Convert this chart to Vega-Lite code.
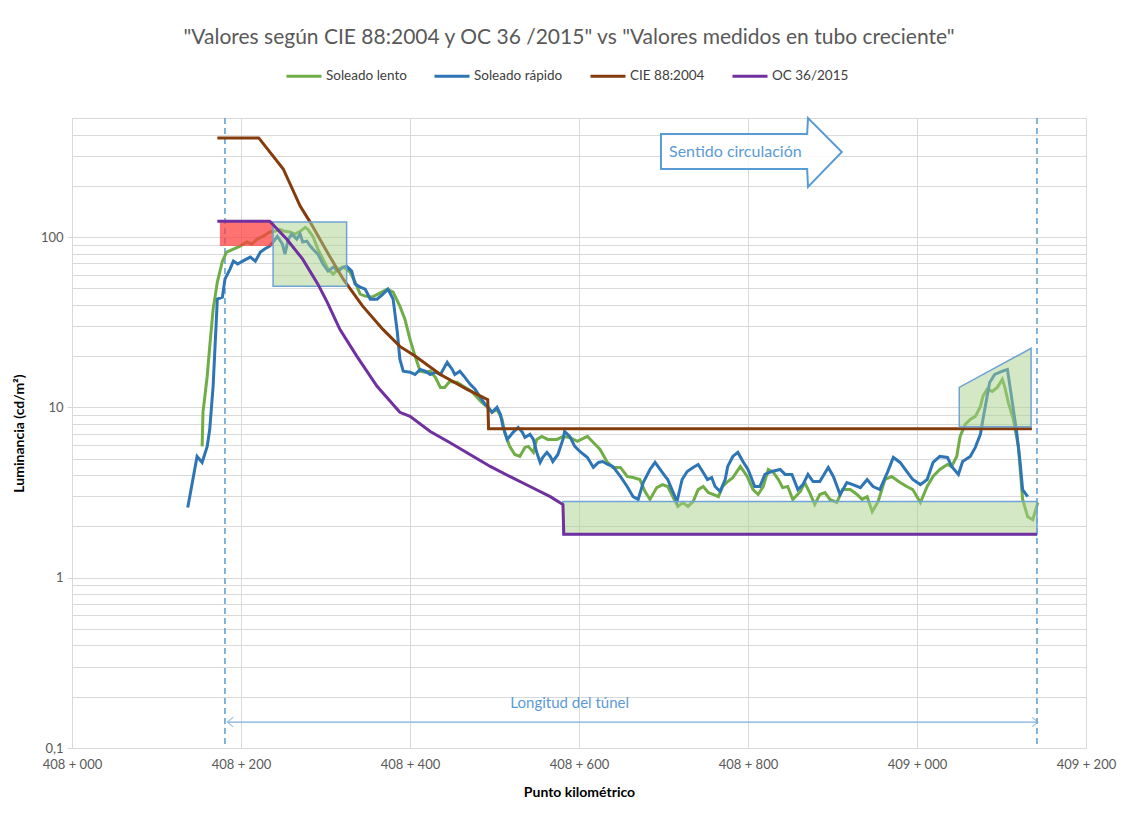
{
  "$schema": "https://vega.github.io/schema/vega-lite/v6.json",
  "width": 1014,
  "height": 630,
  "autosize": {"type": "none"},
  "padding": {"left": 72, "top": 118, "right": 36, "bottom": 68},
  "background": "white",
  "config": {"view": {"stroke": null}, "font": "Lato"},
  "title": {
    "text": "\"Valores según CIE 88:2004 y  OC 36 /2015\" vs \"Valores medidos en tubo creciente\"",
    "font": "Lato", "fontSize": 21, "fontWeight": "normal", "color": "#595959",
    "offset": 9, "dx": -10
  },
  "datasets": {
    "lento": [
      {"pk":408154,"L":5.9},{"pk":408155,"L":9.35},{"pk":408160,"L":15.2},{"pk":408163,"L":22.8},{"pk":408167,"L":37.7},{"pk":408172,"L":54.4},{"pk":408178,"L":72.2},{"pk":408183,"L":81.6},{"pk":408191,"L":85.0},{"pk":408199,"L":88.5},{"pk":408207,"L":93.5},{"pk":408213,"L":91.0},{"pk":408219,"L":97.3},{"pk":408226,"L":101},{"pk":408234,"L":107},{"pk":408240,"L":108},{"pk":408246,"L":111},{"pk":408252,"L":108},{"pk":408258,"L":107},{"pk":408264,"L":104},{"pk":408270,"L":108},{"pk":408276,"L":114},{"pk":408279,"L":111},{"pk":408285,"L":101},{"pk":408291,"L":85.0},{"pk":408297,"L":74.2},{"pk":408303,"L":64.8},{"pk":408309,"L":60.6},{"pk":408315,"L":64.8},{"pk":408321,"L":66.6},{"pk":408329,"L":62.2},{"pk":408335,"L":54.4},{"pk":408341,"L":46.2},{"pk":408347,"L":45.0},{"pk":408355,"L":44.4},{"pk":408362,"L":46.2},{"pk":408373,"L":49.4},{"pk":408380,"L":47.5},{"pk":408388,"L":39.3},{"pk":408394,"L":32.9},{"pk":408400,"L":25.1},{"pk":408406,"L":20.0},{"pk":408412,"L":16.3},{"pk":408418,"L":16.1},{"pk":408424,"L":16.3},{"pk":408430,"L":15.0},{"pk":408436,"L":13.1},{"pk":408441,"L":13.1},{"pk":408447,"L":14.2},{"pk":408456,"L":14.0},{"pk":408463,"L":13.3},{"pk":408473,"L":12.4},{"pk":408479,"L":11.5},{"pk":408485,"L":10.7},{"pk":408491,"L":10.1},{"pk":408497,"L":9.35},{"pk":408503,"L":9.73},{"pk":408509,"L":8.5},{"pk":408512,"L":7.13},{"pk":408518,"L":5.9},{"pk":408524,"L":5.29},{"pk":408530,"L":5.15},{"pk":408536,"L":5.82},{"pk":408540,"L":5.9},{"pk":408546,"L":5.44},{"pk":408550,"L":6.48},{"pk":408556,"L":6.75},{"pk":408563,"L":6.48},{"pk":408574,"L":6.48},{"pk":408581,"L":6.75},{"pk":408589,"L":6.66},{"pk":408598,"L":6.31},{"pk":408610,"L":6.75},{"pk":408617,"L":6.22},{"pk":408625,"L":5.66},{"pk":408633,"L":4.81},{"pk":408640,"L":4.44},{"pk":408649,"L":4.44},{"pk":408657,"L":3.93},{"pk":408664,"L":3.87},{"pk":408672,"L":3.77},{"pk":408678,"L":3.21},{"pk":408684,"L":2.88},{"pk":408692,"L":3.38},{"pk":408699,"L":3.52},{"pk":408705,"L":3.43},{"pk":408711,"L":2.99},{"pk":408717,"L":2.62},{"pk":408723,"L":2.76},{"pk":408729,"L":2.62},{"pk":408735,"L":2.8},{"pk":408741,"L":3.29},{"pk":408747,"L":3.43},{"pk":408753,"L":3.16},{"pk":408759,"L":3.08},{"pk":408765,"L":2.99},{"pk":408770,"L":3.43},{"pk":408776,"L":3.67},{"pk":408782,"L":3.87},{"pk":408791,"L":4.5},{"pk":408799,"L":3.93},{"pk":408806,"L":3.29},{"pk":408812,"L":3.08},{"pk":408818,"L":3.43},{"pk":408824,"L":4.32},{"pk":408830,"L":4.15},{"pk":408836,"L":3.77},{"pk":408841,"L":3.38},{"pk":408847,"L":3.43},{"pk":408853,"L":2.88},{"pk":408862,"L":3.21},{"pk":408867,"L":3.62},{"pk":408873,"L":3.16},{"pk":408879,"L":2.69},{"pk":408885,"L":3.08},{"pk":408891,"L":3.16},{"pk":408897,"L":2.88},{"pk":408905,"L":2.76},{"pk":408912,"L":3.29},{"pk":408921,"L":3.29},{"pk":408929,"L":3.08},{"pk":408935,"L":2.88},{"pk":408941,"L":2.99},{"pk":408947,"L":2.44},{"pk":408954,"L":2.8},{"pk":408962,"L":3.77},{"pk":408970,"L":3.93},{"pk":408980,"L":3.62},{"pk":408988,"L":3.43},{"pk":408995,"L":3.29},{"pk":409004,"L":2.76},{"pk":409012,"L":3.43},{"pk":409019,"L":3.93},{"pk":409027,"L":4.32},{"pk":409036,"L":4.62},{"pk":409041,"L":4.5},{"pk":409047,"L":5.15},{"pk":409051,"L":6.75},{"pk":409057,"L":7.94},{"pk":409063,"L":8.5},{"pk":409069,"L":8.85},{"pk":409075,"L":10.1},{"pk":409078,"L":11.6},{"pk":409083,"L":12.8},{"pk":409089,"L":12.4},{"pk":409095,"L":13.1},{"pk":409101,"L":14.6},{"pk":409104,"L":13.1},{"pk":409108,"L":10.7},{"pk":409114,"L":8.5},{"pk":409120,"L":5.9},{"pk":409125,"L":2.88},{"pk":409131,"L":2.28},{"pk":409137,"L":2.19},{"pk":409143,"L":2.76}
    ],
    "rapido": [
      {"pk":408137,"L":2.58},{"pk":408148,"L":5.15},{"pk":408154,"L":4.75},{"pk":408160,"L":5.9},{"pk":408163,"L":7.43},{"pk":408167,"L":13.3},{"pk":408172,"L":43.2},{"pk":408178,"L":44.4},{"pk":408181,"L":56.6},{"pk":408187,"L":64.8},{"pk":408191,"L":72.2},{"pk":408196,"L":69.4},{"pk":408202,"L":72.2},{"pk":408211,"L":76.3},{"pk":408217,"L":72.2},{"pk":408223,"L":81.6},{"pk":408228,"L":85.0},{"pk":408234,"L":88.5},{"pk":408238,"L":93.5},{"pk":408243,"L":101},{"pk":408249,"L":91.0},{"pk":408252,"L":79.4},{"pk":408256,"L":97.3},{"pk":408260,"L":104},{"pk":408266,"L":97.3},{"pk":408270,"L":104},{"pk":408273,"L":93.5},{"pk":408278,"L":94.7},{"pk":408282,"L":88.5},{"pk":408285,"L":85.0},{"pk":408291,"L":79.4},{"pk":408297,"L":69.4},{"pk":408303,"L":63.1},{"pk":408309,"L":66.6},{"pk":408315,"L":63.1},{"pk":408321,"L":66.6},{"pk":408325,"L":67.5},{"pk":408331,"L":63.1},{"pk":408335,"L":52.9},{"pk":408341,"L":50.8},{"pk":408347,"L":49.4},{"pk":408353,"L":43.2},{"pk":408361,"L":43.2},{"pk":408368,"L":46.2},{"pk":408374,"L":49.4},{"pk":408380,"L":43.2},{"pk":408385,"L":27.6},{"pk":408388,"L":19.2},{"pk":408392,"L":16.3},{"pk":408400,"L":16.1},{"pk":408406,"L":15.6},{"pk":408412,"L":16.7},{"pk":408418,"L":16.3},{"pk":408424,"L":15.6},{"pk":408430,"L":16.1},{"pk":408436,"L":15.6},{"pk":408444,"L":18.4},{"pk":408450,"L":16.7},{"pk":408453,"L":15.6},{"pk":408459,"L":16.3},{"pk":408465,"L":15.0},{"pk":408471,"L":13.7},{"pk":408477,"L":12.8},{"pk":408483,"L":11.5},{"pk":408489,"L":10.4},{"pk":408492,"L":10.1},{"pk":408497,"L":9.35},{"pk":408503,"L":10.0},{"pk":408507,"L":9.1},{"pk":408510,"L":7.73},{"pk":408515,"L":6.48},{"pk":408518,"L":6.75},{"pk":408522,"L":7.13},{"pk":408528,"L":7.63},{"pk":408533,"L":7.13},{"pk":408536,"L":6.66},{"pk":408542,"L":6.94},{"pk":408546,"L":6.48},{"pk":408550,"L":5.44},{"pk":408554,"L":4.75},{"pk":408557,"L":5.08},{"pk":408562,"L":5.44},{"pk":408566,"L":5.15},{"pk":408569,"L":4.81},{"pk":408575,"L":5.29},{"pk":408581,"L":6.48},{"pk":408583,"L":7.22},{"pk":408589,"L":6.75},{"pk":408595,"L":5.9},{"pk":408601,"L":5.51},{"pk":408610,"L":5.08},{"pk":408617,"L":4.44},{"pk":408623,"L":4.75},{"pk":408628,"L":4.81},{"pk":408634,"L":4.62},{"pk":408640,"L":4.5},{"pk":408649,"L":3.93},{"pk":408657,"L":3.43},{"pk":408664,"L":2.99},{"pk":408670,"L":2.88},{"pk":408676,"L":3.62},{"pk":408684,"L":4.32},{"pk":408690,"L":4.75},{"pk":408696,"L":4.32},{"pk":408702,"L":3.93},{"pk":408705,"L":3.77},{"pk":408710,"L":3.29},{"pk":408716,"L":2.8},{"pk":408722,"L":3.77},{"pk":408728,"L":4.2},{"pk":408735,"L":4.44},{"pk":408741,"L":4.62},{"pk":408747,"L":4.15},{"pk":408752,"L":3.77},{"pk":408757,"L":3.87},{"pk":408761,"L":3.43},{"pk":408767,"L":3.21},{"pk":408773,"L":3.77},{"pk":408776,"L":4.5},{"pk":408782,"L":5.15},{"pk":408788,"L":5.44},{"pk":408794,"L":4.81},{"pk":408800,"L":4.32},{"pk":408808,"L":3.43},{"pk":408814,"L":3.43},{"pk":408820,"L":4.04},{"pk":408828,"L":4.2},{"pk":408838,"L":4.32},{"pk":408844,"L":4.04},{"pk":408852,"L":4.04},{"pk":408859,"L":3.29},{"pk":408865,"L":3.52},{"pk":408871,"L":4.04},{"pk":408877,"L":3.67},{"pk":408885,"L":3.67},{"pk":408895,"L":4.44},{"pk":408901,"L":3.93},{"pk":408909,"L":3.08},{"pk":408917,"L":3.62},{"pk":408924,"L":3.52},{"pk":408933,"L":3.38},{"pk":408941,"L":3.77},{"pk":408948,"L":3.43},{"pk":408956,"L":3.29},{"pk":408965,"L":4.15},{"pk":408972,"L":5.08},{"pk":408980,"L":4.75},{"pk":408988,"L":4.2},{"pk":408995,"L":3.77},{"pk":409004,"L":3.52},{"pk":409012,"L":3.77},{"pk":409019,"L":4.75},{"pk":409027,"L":5.15},{"pk":409036,"L":5.08},{"pk":409041,"L":4.5},{"pk":409049,"L":4.04},{"pk":409054,"L":4.81},{"pk":409063,"L":5.15},{"pk":409069,"L":5.82},{"pk":409075,"L":6.94},{"pk":409078,"L":8.5},{"pk":409083,"L":11.6},{"pk":409086,"L":14.0},{"pk":409092,"L":15.6},{"pk":409101,"L":16.3},{"pk":409107,"L":16.7},{"pk":409110,"L":13.3},{"pk":409114,"L":9.73},{"pk":409118,"L":7.13},{"pk":409122,"L":4.75},{"pk":409125,"L":3.29},{"pk":409131,"L":2.99}
    ],
    "cie": [
      {"pk":408172,"L":382},{"pk":408221,"L":382},{"pk":408250,"L":251},{"pk":408270,"L":152},{"pk":408282,"L":122},{"pk":408302,"L":81.6},{"pk":408321,"L":56.6},{"pk":408344,"L":39.3},{"pk":408368,"L":28.7},{"pk":408388,"L":22.8},{"pk":408406,"L":20.0},{"pk":408436,"L":15.6},{"pk":408467,"L":12.8},{"pk":408492,"L":11.1},{"pk":408493,"L":7.5},{"pk":409136,"L":7.5}
    ],
    "oc": [
      {"pk":408172,"L":124},{"pk":408234,"L":124},{"pk":408254,"L":97.3},{"pk":408273,"L":74.2},{"pk":408291,"L":52.9},{"pk":408302,"L":41.5},{"pk":408317,"L":28.7},{"pk":408337,"L":20.0},{"pk":408361,"L":13.3},{"pk":408388,"L":9.35},{"pk":408400,"L":8.85},{"pk":408424,"L":7.22},{"pk":408447,"L":6.22},{"pk":408471,"L":5.29},{"pk":408495,"L":4.5},{"pk":408518,"L":3.93},{"pk":408542,"L":3.43},{"pk":408566,"L":2.99},{"pk":408581,"L":2.69},{"pk":408582,"L":1.8},{"pk":409142,"L":1.8}
    ]
  },
  "layer": [
    {
      "data": {"values": [{"pk": 408181}, {"pk": 409142}]},
      "mark": {"type": "rule", "color": "#5b9bd5", "strokeWidth": 1.5, "strokeDash": [6, 4]},
      "encoding": {
        "x": {
          "field": "pk", "type": "quantitative", "title": "Punto kilométrico",
          "scale": {"domain": [408000, 409200], "nice": false, "zero": false},
          "axis": {
            "values": [408000, 408200, 408400, 408600, 408800, 409000, 409200],
            "labelExpr": "floor(datum.value / 1000) + ' + ' + pad(toString(datum.value % 1000), 3, '0', 'left')",
            "grid": true, "gridColor": "#d9d9d9", "ticks": false, "domainColor": "#d9d9d9",
            "labelColor": "#595959", "labelFont": "Lato", "labelFontSize": 13, "labelPadding": 10,
            "labelFlush": false, "labelOverlap": false,
            "titleFont": "Lato", "titleFontSize": 14, "titleFontWeight": "bold", "titleColor": "#000000", "titlePadding": 14
          }
        }
      }
    },
    {
      "data": {"values": [{"pk": 408184, "pk2": 409143, "L": 0.142}]},
      "mark": {"type": "rule", "color": "#7faedb", "strokeWidth": 1.2},
      "encoding": {
        "x": {"field": "pk", "type": "quantitative", "title": "Punto kilométrico", "scale": {"domain": [408000, 409200], "nice": false, "zero": false}},
        "x2": {"field": "pk2"},
        "y": {"field": "L", "type": "quantitative", "title": "Luminancia (cd/m²)",
          "scale": {"type": "log", "domain": [0.1, 500], "nice": false},
          "axis": {
            "values": [0.1,0.2,0.3,0.4,0.5,0.6,0.7,0.8,0.9,1,2,3,4,5,6,7,8,9,10,20,30,40,50,60,70,80,90,100,200,300,400,500],
            "labelExpr": "datum.value == 0.1 ? '0,1' : (datum.value == 1 || datum.value == 10 || datum.value == 100) ? toString(datum.value) : ''",
            "grid": true, "gridColor": "#d9d9d9", "domainColor": "#d9d9d9",
            "ticks": true, "tickSize": 5, "tickColor": "#d9d9d9",
            "tickOpacity": {"condition": {"test": "datum.value == 0.1 || datum.value == 1 || datum.value == 10 || datum.value == 100", "value": 1}, "value": 0},
            "labelColor": "#595959", "labelFont": "Lato", "labelFontSize": 13, "labelPadding": 4, "labelOverlap": false,
            "titleFont": "Lato", "titleFontSize": 14, "titleFontWeight": "bold", "titleColor": "#000000", "titlePadding": 14
          }
        }
      }
    },
    {
      "data": {"values": [{"pk": 408184, "L": 0.142, "s": "l"}, {"pk": 409143, "L": 0.142, "s": "r"}]},
      "mark": {"type": "point", "filled": false, "color": "#7faedb", "strokeWidth": 1.2, "size": 64},
      "encoding": {
        "x": {"field": "pk", "type": "quantitative", "title": "Punto kilométrico", "scale": {"domain": [408000, 409200], "nice": false, "zero": false}},
        "y": {"field": "L", "type": "quantitative", "title": "Luminancia (cd/m²)", "scale": {"type": "log", "domain": [0.1, 500], "nice": false}},
        "shape": {"field": "s", "type": "nominal", "legend": null,
          "scale": {"domain": ["l", "r"], "range": ["M1.4,-1.2L0,0L1.4,1.2", "M-1.4,-1.2L0,0L-1.4,1.2"]}}
      }
    },
    {
      "data": {"values": [{"pk": 408589, "L": 0.165, "t": "Longitud del túnel"}]},
      "mark": {"type": "text", "font": "Lato", "fontSize": 15, "color": "#5b9bd5", "baseline": "bottom"},
      "encoding": {
        "x": {"field": "pk", "type": "quantitative", "title": "Punto kilométrico", "scale": {"domain": [408000, 409200], "nice": false, "zero": false}},
        "y": {"field": "L", "type": "quantitative", "title": "Luminancia (cd/m²)", "scale": {"type": "log", "domain": [0.1, 500], "nice": false}},
        "text": {"field": "t"}
      }
    },
    {
      "data": {"name": "lento"},
      "mark": {"type": "line", "strokeWidth": 3},
      "encoding": {
        "x": {"field": "pk", "type": "quantitative", "title": "Punto kilométrico", "scale": {"domain": [408000, 409200], "nice": false, "zero": false}},
        "y": {"field": "L", "type": "quantitative", "title": "Luminancia (cd/m²)", "scale": {"type": "log", "domain": [0.1, 500], "nice": false}},
        "color": {"datum": "Soleado lento", "type": "nominal",
          "scale": {"domain": ["Soleado lento", "Soleado rápido", "CIE 88:2004", "OC 36/2015"], "range": ["#70ad47", "#2e75b6", "#843c0c", "#7030a0"]},
          "legend": {
            "title": null, "orient": "none", "direction": "horizontal", "legendX": 213, "legendY": -61,
            "symbolType": "stroke", "symbolSize": 1225, "symbolStrokeWidth": 3,
            "labelFont": "Lato", "labelFontSize": 13.5, "labelColor": "#404040", "labelOffset": 3,
            "columnPadding": 21
          }
        }
      }
    },
    {
      "data": {"name": "rapido"},
      "mark": {"type": "line", "strokeWidth": 3},
      "encoding": {
        "x": {"field": "pk", "type": "quantitative", "title": "Punto kilométrico", "scale": {"domain": [408000, 409200], "nice": false, "zero": false}},
        "y": {"field": "L", "type": "quantitative", "title": "Luminancia (cd/m²)", "scale": {"type": "log", "domain": [0.1, 500], "nice": false}},
        "color": {"datum": "Soleado rápido", "type": "nominal"}
      }
    },
    {
      "data": {"name": "cie"},
      "mark": {"type": "line", "strokeWidth": 3},
      "encoding": {
        "x": {"field": "pk", "type": "quantitative", "title": "Punto kilométrico", "scale": {"domain": [408000, 409200], "nice": false, "zero": false}},
        "y": {"field": "L", "type": "quantitative", "title": "Luminancia (cd/m²)", "scale": {"type": "log", "domain": [0.1, 500], "nice": false}},
        "color": {"datum": "CIE 88:2004", "type": "nominal"}
      }
    },
    {
      "data": {"values": [{"pk": 408175, "pk2": 408238, "L": 88.5, "L2": 124}]},
      "mark": {"type": "rect", "color": "#ff3b3b", "opacity": 0.72},
      "encoding": {
        "x": {"field": "pk", "type": "quantitative", "title": "Punto kilométrico", "scale": {"domain": [408000, 409200], "nice": false, "zero": false}},
        "x2": {"field": "pk2"},
        "y": {"field": "L", "type": "quantitative", "title": "Luminancia (cd/m²)", "scale": {"type": "log", "domain": [0.1, 500], "nice": false}},
        "y2": {"field": "L2"}
      }
    },
    {
      "data": {"values": [{"pk": 408238, "pk2": 408325, "L": 51.5, "L2": 122.6}, {"pk": 408581, "pk2": 409142, "L": 1.79, "L2": 2.8}]},
      "mark": {"type": "rect", "fill": "#a9d18e", "fillOpacity": 0.5, "stroke": "#6fa3d6", "strokeWidth": 1.5},
      "encoding": {
        "x": {"field": "pk", "type": "quantitative", "title": "Punto kilométrico", "scale": {"domain": [408000, 409200], "nice": false, "zero": false}},
        "x2": {"field": "pk2"},
        "y": {"field": "L", "type": "quantitative", "title": "Luminancia (cd/m²)", "scale": {"type": "log", "domain": [0.1, 500], "nice": false}},
        "y2": {"field": "L2"}
      }
    },
    {
      "data": {"values": [{"pk": 409050, "L": 13.1, "L2": 7.7}, {"pk": 409135, "L": 22.2, "L2": 7.7}]},
      "mark": {"type": "area", "fill": "#a9d18e", "fillOpacity": 0.5, "stroke": "#6fa3d6", "strokeWidth": 1.5},
      "encoding": {
        "x": {"field": "pk", "type": "quantitative", "title": "Punto kilométrico", "scale": {"domain": [408000, 409200], "nice": false, "zero": false}},
        "y": {"field": "L", "type": "quantitative", "title": "Luminancia (cd/m²)", "scale": {"type": "log", "domain": [0.1, 500], "nice": false}},
        "y2": {"field": "L2"}
      }
    },
    {
      "data": {"name": "oc"},
      "mark": {"type": "line", "strokeWidth": 3},
      "encoding": {
        "x": {"field": "pk", "type": "quantitative", "title": "Punto kilométrico", "scale": {"domain": [408000, 409200], "nice": false, "zero": false}},
        "y": {"field": "L", "type": "quantitative", "title": "Luminancia (cd/m²)", "scale": {"type": "log", "domain": [0.1, 500], "nice": false}},
        "color": {"datum": "OC 36/2015", "type": "nominal"}
      }
    },
    {
      "data": {"values": [{"pk": 408697, "L": 403, "L2": 251}, {"pk": 408870, "L": 403, "L2": 251}, {"pk": 408871, "L": 500, "L2": 197}, {"pk": 408911, "L": 316, "L2": 316}]},
      "mark": {"type": "area", "fill": "white", "fillOpacity": 0.85, "stroke": "#5b9bd5", "strokeWidth": 2},
      "encoding": {
        "x": {"field": "pk", "type": "quantitative", "title": "Punto kilométrico", "scale": {"domain": [408000, 409200], "nice": false, "zero": false}},
        "y": {"field": "L", "type": "quantitative", "title": "Luminancia (cd/m²)", "scale": {"type": "log", "domain": [0.1, 500], "nice": false}},
        "y2": {"field": "L2"}
      }
    },
    {
      "data": {"values": [{"pk": 408785, "L": 316, "t": "Sentido circulación"}]},
      "mark": {"type": "text", "font": "Lato", "fontSize": 16, "color": "#5b9bd5", "baseline": "middle"},
      "encoding": {
        "x": {"field": "pk", "type": "quantitative", "title": "Punto kilométrico", "scale": {"domain": [408000, 409200], "nice": false, "zero": false}},
        "y": {"field": "L", "type": "quantitative", "title": "Luminancia (cd/m²)", "scale": {"type": "log", "domain": [0.1, 500], "nice": false}},
        "text": {"field": "t"}
      }
    }
  ]
}
